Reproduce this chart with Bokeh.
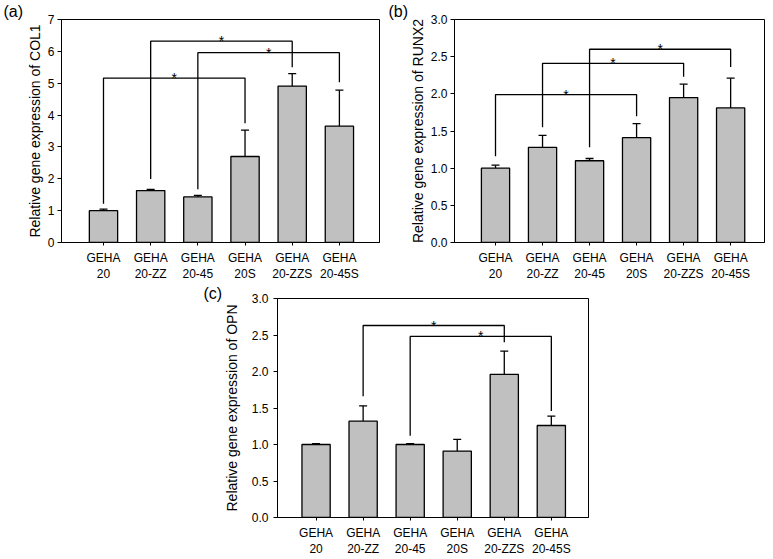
from bokeh.plotting import figure
from bokeh.models import (FixedTicker, PrintfTickFormatter, Whisker, ColumnDataSource,
                          Title, Spacer, TeeHead, Range1d)
from bokeh.layouts import column, row
from bokeh.embed import file_html
from bokeh.resources import INLINE
from bokeh.core.properties import value

# ---------------- data ----------------
groups = ["GEHA\n20", "GEHA\n20-ZZ", "GEHA\n20-45", "GEHA\n20S", "GEHA\n20-ZZS", "GEHA\n20-45S"]

col1_mean = [1.00, 1.63, 1.43, 2.70, 4.91, 3.65]
col1_sd = [0.05, 0.04, 0.05, 0.83, 0.39, 1.13]
# bracket: (left group idx, right group idx, bracket height, left leg end, right leg end)
col1_brackets = [(0, 3, 5.16, 1.22, 3.74), (1, 4, 6.32, 1.99, 5.50), (2, 5, 5.96, 1.67, 5.03)]

runx2_mean = [1.00, 1.28, 1.10, 1.41, 1.95, 1.81]
runx2_sd = [0.04, 0.16, 0.03, 0.19, 0.18, 0.40]
runx2_brackets = [(0, 3, 1.99, 1.16, 1.70), (1, 4, 2.41, 1.55, 2.23), (2, 5, 2.60, 1.28, 2.36)]

opn_mean = [1.00, 1.32, 1.00, 0.91, 1.96, 1.26]
opn_sd = [0.01, 0.21, 0.01, 0.16, 0.32, 0.13]
opn_brackets = [(1, 4, 2.63, 1.66, 2.40), (2, 5, 2.48, 1.12, 1.46)]

col1_ticks = [0, 1, 2, 3, 4, 5, 6, 7]
runx2_ticks = [0.0, 0.5, 1.0, 1.5, 2.0, 2.5, 3.0]
opn_ticks = [0.0, 0.5, 1.0, 1.5, 2.0, 2.5, 3.0]

FONT = "Liberation Sans"
BAR_FILL = "#c0c0c0"


def make_panel(means, sds, brackets, yticks, fmt, ylabel, tag,
               xr, width, height, bl, br, bt, bb, tag_offset, tag_standoff,
               label_standoff, tick_standoff):
    xs = list(range(1, len(means) + 1))
    p = figure(width=width, height=height, output_backend="svg", toolbar_location=None,
               x_range=Range1d(*xr), y_range=Range1d(yticks[0], yticks[-1]),
               min_border_left=bl, min_border_right=br, min_border_top=bt, min_border_bottom=bb,
               tools="")
    p.title = Title(text=tag, align="left", offset=tag_offset, standoff=tag_standoff,
                    text_font=FONT, text_font_size="16px", text_font_style="normal",
                    text_color="black")
    p.background_fill_color = "white"
    p.border_fill_color = "white"
    p.outline_line_color = "black"
    p.outline_line_width = 1
    p.xgrid.visible = False
    p.ygrid.visible = False

    p.vbar(x=xs, top=means, width=0.6, bottom=0, fill_color=BAR_FILL,
           line_color="black", line_width=1.3)

    src = ColumnDataSource(dict(x=xs, lower=means, upper=[m + s for m, s in zip(means, sds)]))
    w = Whisker(source=src, base="x", lower="lower", upper="upper", lower_head=None,
                upper_head=TeeHead(size=8, line_color="black", line_width=1.3),
                line_color="black", line_width=1.3)
    p.add_layout(w)

    bxs, bys, sx, sy = [], [], [], []
    for i, j, h, lb, rb in brackets:
        bxs.append([xs[i], xs[i], xs[j], xs[j]])
        bys.append([lb, h, h, rb])
        sx.append((xs[i] + xs[j]) / 2)
        sy.append(h)
    p.multi_line(xs=bxs, ys=bys, line_color="black", line_width=1.3)
    p.text(x=sx, y=sy, text=["*"] * len(sx), text_align="center", text_baseline="alphabetic",
           y_offset=0, text_font=value(FONT), text_font_size="14px", text_color="black")

    # axes
    xa = p.xaxis[0]
    xa.ticker = FixedTicker(ticks=xs)
    xa.major_label_overrides = {x: g for x, g in zip(xs, groups)}
    xa.major_label_text_font = FONT
    xa.major_label_text_font_size = "12px"
    xa.major_label_text_color = "black"
    xa.major_tick_out = 3
    xa.major_tick_in = 0
    xa.minor_tick_out = 0
    xa.minor_tick_in = 0
    xa.major_label_standoff = 5
    xa.axis_line_color = "black"
    xa.major_tick_line_color = "black"

    ya = p.yaxis[0]
    ya.ticker = FixedTicker(ticks=yticks)
    ya.formatter = PrintfTickFormatter(format=fmt)
    ya.major_label_text_font = FONT
    ya.major_label_text_font_size = "12px"
    ya.major_label_text_color = "black"
    ya.major_tick_out = 4
    ya.major_tick_in = 0
    ya.minor_tick_out = 0
    ya.minor_tick_in = 0
    ya.major_label_standoff = tick_standoff
    ya.axis_line_color = "black"
    ya.major_tick_line_color = "black"
    ya.axis_label = ylabel
    ya.axis_label_text_font = FONT
    ya.axis_label_text_font_size = "14px"
    ya.axis_label_text_font_style = "normal"
    ya.axis_label_text_color = "black"
    ya.axis_label_standoff = label_standoff
    return p


pa = make_panel(col1_mean, col1_sd, col1_brackets, col1_ticks, "%d",
                "Relative gene expression of COL1", "(a)",
                (0.11, 6.85), 387, 285, 61, 8, 17, 42, -58, 0, 2, 3)
pb = make_panel(runx2_mean, runx2_sd, runx2_brackets, runx2_ticks, "%.1f",
                "Relative gene expression of RUNX2", "(b)",
                (0.128, 6.72), 386, 285, 67, 9, 17, 43, -66, 0, 2, 3)
pc = make_panel(opn_mean, opn_sd, opn_brackets, opn_ticks, "%.1f",
                "Relative gene expression of OPN", "(c)",
                (0.18, 6.79), 405, 274, 82, 12, 12, 38, -74, -6, 9, 5)

layout = column(row(pa, pb), row(Spacer(width=195, height=274), pc))

open("out.html", "w").write(file_html(layout, INLINE))
